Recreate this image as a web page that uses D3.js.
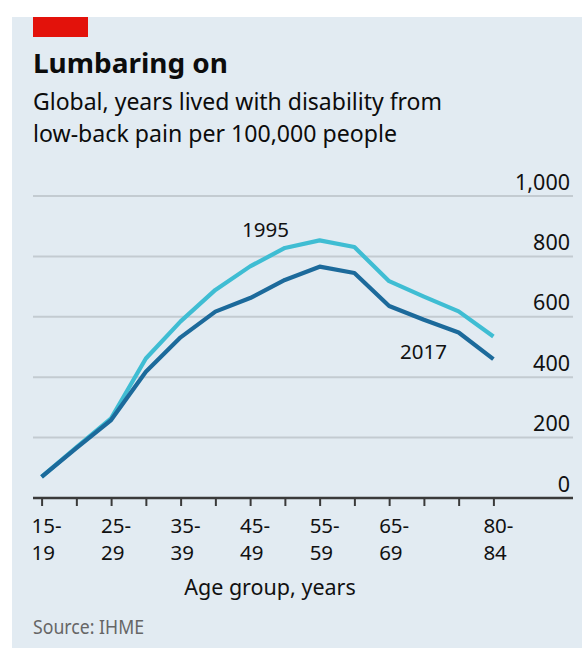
<!DOCTYPE html>
<html>
<head>
<meta charset="utf-8">
<script src="https://cdn.jsdelivr.net/npm/d3@7"></script>
<style>
  html, body { margin: 0; padding: 0; background: #ffffff; }
  svg { display: block; font-family: "Noto Sans", "Open Sans", sans-serif; }
</style>
</head>
<body>
<svg id="chart" width="582" height="648"></svg>
<script>
// ---- data ----
const ageGroups = ["15-19","20-24","25-29","30-34","35-39","40-44","45-49","50-54","55-59","60-64","65-69","70-74","75-79","80-84"];
const values1995 = [70, 168, 264, 462, 585, 689, 767, 828, 853, 831, 718, 667, 618, 535];
const values2017 = [70, 165, 258, 418, 532, 617, 662, 722, 766, 745, 636, 590, 548, 460];
const labeledGroups = ["15-19","25-29","35-39","45-49","55-59","65-69","80-84"];
const yTicks = [0, 200, 400, 600, 800, 1000];
const seriesNames = ["1995", "2017"];

const title = "Lumbaring on";
const subtitle = ["Global, years lived with disability from", "low-back pain per 100,000 people"];
const xTitle = "Age group, years";
const source = "Source: IHME";

// ---- styles ----
const colLight = "#3fbdd3";
const colDark = "#1c6a9b";
const gridCol = "#c3cbd1";
const axisCol = "#3a3a3a";

const svg = d3.select("#chart");

// background panel
svg.append("rect").attr("x", 12).attr("y", 17).attr("width", 570).attr("height", 631).attr("fill", "#e2ebf2");
// red tag
svg.append("rect").attr("x", 33).attr("y", 17).attr("width", 55).attr("height", 20).attr("fill", "#e3120b");

function fit(sel, w) {
  const n = sel.node().getComputedTextLength();
  if (Math.abs(n - w) > 2) sel.attr("textLength", w).attr("lengthAdjust", "spacingAndGlyphs");
  return sel;
}

// title
fit(svg.append("text").attr("x", 33).attr("y", 73).attr("font-size", 26).attr("font-weight", 700)
  .attr("fill", "#0c0c0c").text(title), 195);
fit(svg.append("text").attr("x", 33).attr("y", 110).attr("font-size", 24).attr("fill", "#0c0c0c").text(subtitle[0]), 409);
fit(svg.append("text").attr("x", 33).attr("y", 142).attr("font-size", 24).attr("fill", "#0c0c0c").text(subtitle[1]), 364);

// scales
const x = d3.scalePoint().domain(ageGroups).range([41.6, 493.4]);
const y = d3.scaleLinear().domain([0, 1000]).range([498, 196]);

// gridlines
const gridG = svg.append("g");
gridG.selectAll("line").data(yTicks.filter(d => d > 0)).join("line")
  .attr("x1", 33).attr("x2", 573)
  .attr("y1", d => y(d)).attr("y2", d => y(d))
  .attr("stroke", gridCol).attr("stroke-width", 2);

// y labels (right axis, labels above lines)
const yAxis = d3.axisRight(y).tickValues(yTicks).tickSize(0).tickFormat(d3.format(","));
const yg = svg.append("g").attr("transform", "translate(570,0)").call(yAxis);
yg.select(".domain").remove();
yg.selectAll("text").attr("x", 0).attr("dy", "-7px").attr("text-anchor", "end")
  .attr("font-size", 21.5).attr("font-family", "Noto Sans, sans-serif").attr("fill", "#111");

// lines
const line = d3.line().x((d, i) => x(ageGroups[i])).y(d => y(d));
svg.append("path").datum(values1995).attr("d", line).attr("fill", "none")
  .attr("stroke", colLight).attr("stroke-width", 4.2).attr("stroke-linejoin", "round");
svg.append("path").datum(values2017).attr("d", line).attr("fill", "none")
  .attr("stroke", colDark).attr("stroke-width", 4.2).attr("stroke-linejoin", "round");

// x axis
const xAxis = d3.axisBottom(x).tickSize(8).tickFormat("");
const xg = svg.append("g").attr("transform", "translate(0,498)").call(xAxis);
xg.select(".domain").remove();
xg.selectAll(".tick line").attr("stroke", axisCol).attr("stroke-width", 2);
svg.append("line").attr("x1", 33).attr("x2", 573).attr("y1", y(0)).attr("y2", y(0))
  .attr("stroke", axisCol).attr("stroke-width", 2.5);

// x tick labels
const xl = svg.append("g");
labeledGroups.forEach(g => {
  const parts = g.split("-");
  const t = xl.append("text").attr("font-size", 20.5).attr("fill", "#111");
  t.append("tspan").attr("x", x(g) - 10).attr("y", 533).text(parts[0] + "-");
  t.append("tspan").attr("x", x(g) - 10).attr("y", 560).text(parts[1]);
});

// x title
svg.append("text").attr("x", 270).attr("y", 595).attr("text-anchor", "middle")
  .attr("font-size", 21.5).attr("fill", "#111").text(xTitle);

// series labels
svg.append("text").attr("x", 242).attr("y", 237).attr("font-size", 20.5).attr("fill", "#111").text(seriesNames[0]);
svg.append("text").attr("x", 400).attr("y", 359).attr("font-size", 20.5).attr("fill", "#111").text(seriesNames[1]);

// source
fit(svg.append("text").attr("x", 33).attr("y", 634).attr("font-size", 20).attr("fill", "#666").text(source), 111);
</script>
</body>
</html>
